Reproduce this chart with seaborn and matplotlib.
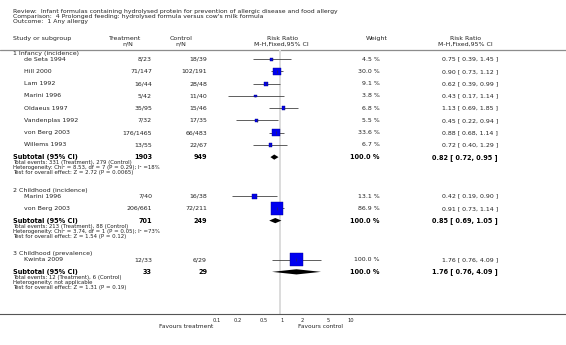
import numpy as np
import pandas as pd
import matplotlib
matplotlib.use("Agg")
import matplotlib.pyplot as plt
import seaborn as sns

# ---- data ----
title_lines = ["Review:  Infant formulas containing hydrolysed protein for prevention of allergic disease and food allergy",
               "Comparison:  4 Prolonged feeding: hydrolysed formula versus cow's milk formula",
               "Outcome:  1 Any allergy"]

groups = ["1 Infancy (incidence)", "2 Childhood (incidence)", "3 Childhood (prevalence)"]

study = ["de Seta 1994", "Hill 2000", "Lam 1992", "Marini 1996", "Oldaeus 1997", "Vandenplas 1992",
         "von Berg 2003", "Willems 1993",
         "Marini 1996", "von Berg 2003",
         "Kwinta 2009"]
study_group = [0, 0, 0, 0, 0, 0, 0, 0, 1, 1, 2]
treat = ["8/23", "71/147", "16/44", "5/42", "35/95", "7/32", "176/1465", "13/55",
         "7/40", "206/661", "12/33"]
ctrl = ["18/39", "102/191", "28/48", "11/40", "15/46", "17/35", "66/483", "22/67",
        "16/38", "72/211", "6/29"]
weight = [4.5, 30.0, 9.1, 3.8, 6.8, 5.5, 33.6, 6.7, 13.1, 86.9, 100.0]
rr = [0.75, 0.90, 0.62, 0.43, 1.13, 0.45, 0.88, 0.72, 0.42, 0.91, 1.76]
lo = [0.39, 0.73, 0.39, 0.17, 0.69, 0.22, 0.68, 0.40, 0.19, 0.73, 0.76]
hi = [1.45, 1.12, 0.99, 1.14, 1.85, 0.94, 1.14, 1.29, 0.90, 1.14, 4.09]

sub_treat = ["1903", "701", "33"]
sub_ctrl = ["949", "249", "29"]
sub_rr = [0.82, 0.85, 1.76]
sub_lo = [0.72, 0.69, 0.76]
sub_hi = [0.95, 1.05, 4.09]
sub_notes = [
    ["Total events: 331 (Treatment), 279 (Control)",
     "Heterogeneity: Chi\u00b2 = 8.53, df = 7 (P = 0.29); I\u00b2 =18%",
     "Test for overall effect: Z = 2.72 (P = 0.0065)"],
    ["Total events: 213 (Treatment), 88 (Control)",
     "Heterogeneity: Chi\u00b2 = 3.74, df = 1 (P = 0.05); I\u00b2 =73%",
     "Test for overall effect: Z = 1.54 (P = 0.12)"],
    ["Total events: 12 (Treatment), 6 (Control)",
     "Heterogeneity: not applicable",
     "Test for overall effect: Z = 1.31 (P = 0.19)"],
]

tick_vals = [0.1, 0.2, 0.5, 1, 2, 5, 10]
tick_labels = ["0.1", "0.2", "0.5", "1", "2", "5", "10"]

# ---- layout ----
W, H = 566, 345
sns.set_style("white")
plt.rcParams['font.family'] = ['DejaVu Sans']
fig = plt.figure(figsize=(W / 100, H / 100), dpi=100)

txt = fig.add_axes([0, 0, 1, 1])
txt.set_xlim(0, W)
txt.set_ylim(H, 0)
txt.axis("off")

dark = "#222222"
fs = 4.5
fs_title = 4.4
fs_small = 3.85
fs_bold = 4.7

# title block
for i, line in enumerate(title_lines):
    txt.text(13, 11 + 5.4 * i, line, fontsize=fs_title, color=dark, va="center")

# column headers
hy1, hy2 = 38.5, 44.5
txt.text(13, hy1, "Study or subgroup", fontsize=fs, color=dark, va="center")
txt.text(125, hy1, "Treatment", fontsize=fs, color=dark, va="center", ha="center")
txt.text(128, hy2, "n/N", fontsize=fs, color=dark, va="center", ha="center")
txt.text(181, hy1, "Control", fontsize=fs, color=dark, va="center", ha="center")
txt.text(181, hy2, "n/N", fontsize=fs, color=dark, va="center", ha="center")
txt.text(283, hy1, "Risk Ratio", fontsize=fs, color=dark, va="center", ha="center")
txt.text(281, hy2, "M-H,Fixed,95% CI", fontsize=fs, color=dark, va="center", ha="center")
txt.text(377, hy1, "Weight", fontsize=fs, color=dark, va="center", ha="center")
txt.text(466, hy1, "Risk Ratio", fontsize=fs, color=dark, va="center", ha="center")
txt.text(465, hy2, "M-H,Fixed,95% CI", fontsize=fs, color=dark, va="center", ha="center")
txt.axhline(49.5, color="#8c8c8c", lw=0.9)

# row positions
row_step = 12.25
study_y = []
head_y = []
sub_y = []
note_y = []
y = 53.5
for g in range(len(groups)):
    head_y.append(y)
    idx = [i for i, s in enumerate(study_group) if s == g]
    yy = y + 5.6
    for k in idx:
        study_y.append(yy)
        yy += row_step
    sub_y.append(yy)
    note_y.append([yy + 5.6, yy + 10.6, yy + 15.6])
    y = yy + 15.6 + 17.8

# forest axes (log scale), bottom spine is the axis line
px_one, px_dec = 280.0, 67.0
y_top, y_axis = 49.5, 314.0
fax = fig.add_axes([0, (H - y_axis) / H, 1, (y_axis - y_top) / H])
fax.set_facecolor("none")
fax.set_xscale("log")
fax.set_xlim(10 ** ((0 - px_one) / px_dec), 10 ** ((W - px_one) / px_dec))
fax.set_ylim(y_axis, y_top)
for side in ["top", "left", "right"]:
    fax.spines[side].set_visible(False)
fax.spines["bottom"].set_color("#555555")
fax.spines["bottom"].set_linewidth(0.8)
fax.set_yticks([])
fax.set_xticks(tick_vals)
fax.set_xticklabels(tick_labels)
fax.minorticks_off()
fax.tick_params(axis="x", length=1.5, width=0.5, color="#777777", pad=1.2,
                labelsize=3.7, labelcolor=dark)
for lab in fax.get_xticklabels():
    lab.set_horizontalalignment("left")
fax.axvline(1, color="#dcdcdc", lw=1.4, zorder=0)

df = pd.DataFrame({"study": study, "rr": rr, "lo": lo, "hi": hi,
                   "weight": weight, "y": study_y})
fax.hlines(df["y"], df["lo"], df["hi"], color="#444444", lw=0.6, zorder=2)
sns.scatterplot(data=df, x="rr", y="y", size="weight", sizes=(0, 92), size_norm=(0, 100),
                marker="s", color="#0000f0", edgecolor="#00008b", linewidth=0.3,
                legend=False, ax=fax, zorder=3)
fax.vlines(df["rr"], df["y"] - 1.2, df["y"] + 1.2, color="#333333", lw=0.4, zorder=4)
fax.set_xlabel("")
fax.set_ylabel("")

# diamonds for subtotals
dh = 2.6
for g in range(len(groups)):
    yc = sub_y[g]
    fax.fill([sub_lo[g], sub_rr[g], sub_hi[g], sub_rr[g]], [yc, yc - dh, yc, yc + dh],
             color="black", lw=0, zorder=3)

# text of the table
for i in range(len(study)):
    yy = study_y[i]
    txt.text(24, yy, study[i], fontsize=fs, color=dark, va="center")
    txt.text(152, yy, treat[i], fontsize=fs, color=dark, va="center", ha="right")
    txt.text(207, yy, ctrl[i], fontsize=fs, color=dark, va="center", ha="right")
    txt.text(380, yy, f"{weight[i]:.1f} %", fontsize=fs, color=dark, va="center", ha="right")
    txt.text(498, yy, f"{rr[i]:.2f} [ {lo[i]:.2f}, {hi[i]:.2f} ]", fontsize=fs,
             color=dark, va="center", ha="right")

for g in range(len(groups)):
    txt.text(13, head_y[g], groups[g], fontsize=fs, color=dark, va="center")
    yy = sub_y[g]
    txt.text(13, yy, "Subtotal (95% CI)", fontsize=fs_bold, fontweight="bold", color="black", va="center")
    txt.text(152, yy, sub_treat[g], fontsize=fs_bold, fontweight="bold", color="black", va="center", ha="right")
    txt.text(207, yy, sub_ctrl[g], fontsize=fs_bold, fontweight="bold", color="black", va="center", ha="right")
    txt.text(380, yy, "100.0 %", fontsize=fs_bold, fontweight="bold", color="black", va="center", ha="right")
    txt.text(498, yy, f"{sub_rr[g]:.2f} [ {sub_lo[g]:.2f}, {sub_hi[g]:.2f} ]", fontsize=fs_bold,
             fontweight="bold", color="black", va="center", ha="right")
    for line, ly in zip(sub_notes[g], note_y[g]):
        txt.text(13, ly, line, fontsize=fs_small, color=dark, va="center")

txt.text(213, 327, "Favours treatment", fontsize=4.2, color=dark, va="center", ha="right")
txt.text(298, 327, "Favours control", fontsize=4.2, color=dark, va="center", ha="left")

fig.savefig("out.png", dpi=100, facecolor="white")
